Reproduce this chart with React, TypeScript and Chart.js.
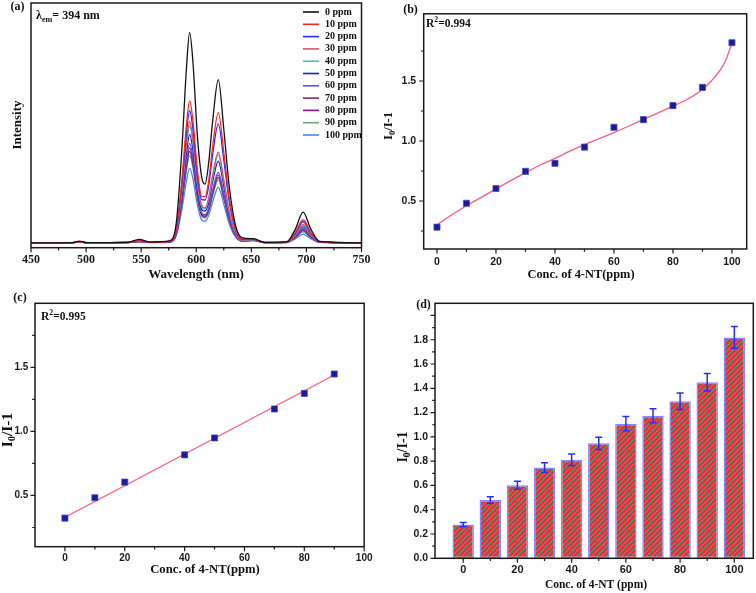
import React, { useEffect, useRef } from 'react';
import { Chart, registerables } from 'chart.js';
Chart.register(...registerables);

const SERIF = '"Liberation Serif", "Times New Roman", serif';
const SANS = '"Liberation Sans", Arial, sans-serif';

// ---------- Panel (a): emission spectra ----------
const wavelengths = [450, 488, 494, 500, 538, 548, 558, 576, 582, 587, 591, 594, 597, 601, 605, 608, 611, 615, 620, 625, 630, 636, 642, 652, 662, 682, 690, 697, 704, 712, 750];
const legendA = ['0 ppm', '10 ppm', '20 ppm', '30 ppm', '40 ppm', '50 ppm', '60 ppm', '70 ppm', '80 ppm', '90 ppm', '100 ppm'];
const colorsA = ['#111111', '#ff2424', '#2a2aff', '#e0506a', '#3cc8a8', '#1c1cc8', '#6a50d8', '#8c2c5a', '#8a108a', '#6aaa78', '#4c86e6'];
const spec0 = [2, 2.1, 2.7, 2.1, 2.2, 3.4, 2.3, 2.9, 10.6, 40.7, 72.5, 88, 75.8, 45.9, 28.7, 26.0, 33.6, 52.2, 68.7, 48.4, 24.8, 8.5, 4.0, 3.7, 2.2, 2.4, 7.6, 14.5, 7.6, 2.6, 2];
const spec10 = [2, 2.1, 2.5, 2.1, 2.2, 3.0, 2.2, 2.6, 7.8, 28.1, 49.6, 60, 51.8, 31.9, 21.0, 20.9, 26.4, 41.7, 55.2, 39.0, 20.2, 7.2, 3.6, 3.5, 2.2, 2.3, 6.3, 11.5, 6.3, 2.5, 2];
const spec20 = [2, 2.1, 2.5, 2.1, 2.2, 2.9, 2.2, 2.5, 7.4, 26.3, 46.3, 56, 48.4, 29.8, 19.6, 19.5, 24.4, 38.4, 50.6, 35.8, 18.6, 6.8, 3.4, 3.4, 2.2, 2.3, 5.9, 10.7, 5.9, 2.4, 2];
const spec30 = [2, 2.1, 2.4, 2.1, 2.2, 2.8, 2.2, 2.5, 7.0, 24.3, 42.6, 51.5, 44.5, 27.2, 17.2, 16.3, 19.7, 29.9, 39.0, 27.7, 14.6, 5.6, 3.1, 3.3, 2.1, 2.2, 5.4, 9.5, 5.4, 2.4, 2];
const spec40 = [2, 2.1, 2.4, 2.1, 2.2, 2.8, 2.2, 2.5, 6.8, 23.5, 41.1, 49.7, 42.9, 26.3, 16.7, 15.9, 19.1, 29.1, 38.0, 27.0, 14.3, 5.5, 3.1, 3.2, 2.1, 2.2, 5.2, 9.0, 5.2, 2.4, 2];
const spec50 = [2, 2.1, 2.4, 2.1, 2.2, 2.7, 2.2, 2.4, 6.4, 21.9, 38.3, 46.3, 40.0, 24.6, 15.6, 15.0, 17.9, 27.2, 35.4, 25.2, 13.4, 5.3, 3.0, 3.1, 2.1, 2.2, 4.9, 8.5, 4.9, 2.3, 2];
const spec60 = [2, 2.1, 2.3, 2.1, 2.1, 2.6, 2.2, 2.4, 6.1, 20.3, 35.3, 42.6, 36.8, 22.6, 14.3, 13.5, 15.8, 23.8, 30.8, 22.0, 11.8, 4.8, 2.8, 3.0, 2.1, 2.2, 4.6, 7.8, 4.6, 2.3, 2];
const spec70 = [2, 2.1, 2.3, 2.1, 2.1, 2.6, 2.2, 2.4, 5.9, 19.5, 33.8, 40.8, 35.3, 21.7, 13.7, 12.9, 15.4, 23.0, 29.8, 21.3, 11.5, 4.7, 2.8, 3.0, 2.1, 2.2, 4.5, 7.5, 4.5, 2.3, 2];
const spec80 = [2, 2.1, 2.3, 2.1, 2.1, 2.5, 2.2, 2.4, 5.7, 18.8, 32.7, 39.4, 34.1, 21.0, 13.3, 12.6, 14.9, 22.2, 28.7, 20.6, 11.1, 4.6, 2.8, 3.0, 2.1, 2.2, 4.3, 7.0, 4.3, 2.3, 2];
const spec90 = [2, 2.1, 2.3, 2.1, 2.1, 2.5, 2.2, 2.4, 5.6, 18.0, 31.2, 37.6, 32.6, 20.1, 12.8, 12.1, 14.3, 21.4, 27.7, 19.9, 10.8, 4.5, 2.8, 3.0, 2.1, 2.1, 4.0, 6.5, 4.0, 2.2, 2];
const spec100 = [2, 2.1, 2.2, 2.1, 2.1, 2.4, 2.1, 2.3, 5.1, 15.7, 27.0, 32.5, 28.1, 17.5, 11.3, 10.8, 12.8, 19.0, 24.6, 17.7, 9.7, 4.2, 2.7, 2.9, 2.1, 2.1, 3.6, 5.5, 3.6, 2.2, 2];
const spectraA = [spec0, spec10, spec20, spec30, spec40, spec50, spec60, spec70, spec80, spec90, spec100];
const xTicksA = [450, 500, 550, 600, 650, 700, 750];
const xMinorA = [475, 525, 575, 625, 675, 725];

// ---------- Panel (b): I0/I-1 vs conc with polynomial fit ----------
const concB = [0, 10, 20, 30, 40, 50, 60, 70, 80, 90, 100];
const ratioB = [0.282, 0.481, 0.604, 0.747, 0.814, 0.949, 1.114, 1.178, 1.295, 1.447, 1.819];
const fitXB = [0, 5, 10, 15, 20, 25, 30, 35, 40, 45, 50, 55, 60, 65, 70, 75, 80, 85, 90, 93, 96, 98, 100];
const fitYB = [0.30, 0.385, 0.46, 0.53, 0.60, 0.67, 0.735, 0.80, 0.855, 0.915, 0.97, 1.02, 1.07, 1.125, 1.18, 1.235, 1.29, 1.35, 1.43, 1.50, 1.59, 1.68, 1.82];
const xTicksBC = [0, 20, 40, 60, 80, 100];
const xMinorBC = [10, 30, 50, 70, 90];
const yTicksBC = [0.5, 1.0, 1.5];
const yMinorBC = [0.25, 0.75, 1.25, 1.75];

// ---------- Panel (c): linear range ----------
const concC = [0, 10, 20, 40, 50, 70, 80, 90];
const ratioC = [0.323, 0.482, 0.604, 0.817, 0.949, 1.175, 1.297, 1.448];
const fitXC = [0, 90];
const fitYC = [0.33, 1.44];

// ---------- Panel (d): bars with error bars ----------
const concD = [0, 10, 20, 30, 40, 50, 60, 70, 80, 90, 100];
const ratioD = [0.278, 0.48, 0.602, 0.747, 0.812, 0.947, 1.109, 1.174, 1.293, 1.449, 1.819];
const errD = [0.017, 0.027, 0.033, 0.04, 0.047, 0.05, 0.058, 0.058, 0.068, 0.072, 0.09];
const xTicksD = [0, 20, 40, 60, 80, 100];
const xMinorD = [10, 30, 50, 70, 90];
const yTicksD = [0, 0.2, 0.4, 0.6, 0.8, 1.0, 1.2, 1.4, 1.6, 1.8, 2.0];
const yMinorD = [0.1, 0.3, 0.5, 0.7, 0.9, 1.1, 1.3, 1.5, 1.7, 1.9];

type Part = { t: string; sub?: boolean; sup?: boolean };

function drawRich(ctx: any, parts: Part[], x: number, y: number, size: number, align: string, family: string, rotate = false) {
  ctx.save();
  ctx.translate(x, y);
  if (rotate) ctx.rotate(-Math.PI / 2);
  ctx.textBaseline = 'middle';
  ctx.textAlign = 'left';
  ctx.fillStyle = '#111';
  const fontOf = (p: Part) => `bold ${p.sub || p.sup ? size * 0.68 : size}px ${family}`;
  const widths = parts.map((p) => {
    ctx.font = fontOf(p);
    return ctx.measureText(p.t).width;
  });
  const total = widths.reduce((a, b) => a + b, 0);
  let cx = align === 'center' ? -total / 2 : 0;
  parts.forEach((p, i) => {
    ctx.font = fontOf(p);
    const dy = p.sub ? size * 0.3 : p.sup ? -size * 0.32 : 0;
    ctx.fillText(p.t, cx, dy);
    cx += widths[i];
  });
  ctx.restore();
}

function axisPlugin(spec: any) {
  return {
    id: 'axisFrame',
    afterDatasetsDraw(chart: any) {
      const { ctx, chartArea: a } = chart;
      const xs = chart.scales.x;
      const ys = chart.scales.y;
      ctx.save();
      ctx.strokeStyle = '#1a1a1a';
      ctx.lineWidth = 1.2;
      ctx.beginPath();
      (spec.xMajor || []).forEach((v: number) => {
        const p = xs.getPixelForValue(v);
        ctx.moveTo(p, a.bottom);
        ctx.lineTo(p, a.bottom + 4.5);
      });
      (spec.xMinor || []).forEach((v: number) => {
        const p = xs.getPixelForValue(v);
        ctx.moveTo(p, a.bottom);
        ctx.lineTo(p, a.bottom + 2.8);
      });
      (spec.yMajor || []).forEach((v: number) => {
        const p = ys.getPixelForValue(v);
        ctx.moveTo(a.left, p);
        ctx.lineTo(a.left - 4.5, p);
      });
      (spec.yMinor || []).forEach((v: number) => {
        const p = ys.getPixelForValue(v);
        ctx.moveTo(a.left, p);
        ctx.lineTo(a.left - 2.8, p);
      });
      ctx.stroke();
      ctx.lineWidth = 1.5;
      ctx.strokeRect(a.left, a.top, a.right - a.left, a.bottom - a.top);
      ctx.restore();
    },
  };
}

function textPlugin(ox: number, oy: number, draw: (ctx: any, chart: any) => void) {
  return {
    id: 'texts',
    afterDraw(chart: any) {
      const ctx = chart.ctx;
      ctx.save();
      ctx.translate(-ox, -oy);
      draw(ctx, chart);
      ctx.restore();
    },
  };
}

function fixedTicks(values: number[]) {
  return (s: any) => {
    s.ticks = values.map((v) => ({ value: v }));
  };
}

const I0 = (): Part[] => [{ t: 'I' }, { t: '0', sub: true }, { t: '/I-1' }];

function Panel({ left, top, width, height, build }: any) {
  const ref = useRef<HTMLCanvasElement>(null);
  useEffect(() => {
    const chart = new Chart(ref.current as any, build());
    return () => chart.destroy();
  }, []);
  return <canvas ref={ref} width={width} height={height} style={{ position: 'absolute', left, top, width, height }} />;
}

function xScale(min: number, max: number, ticks: number[], height: number, pad: number, font: any, fmt: (v: number) => string) {
  return {
    type: 'linear',
    min,
    max,
    offset: false,
    grid: { display: false, drawTicks: false, offset: false },
    border: { display: false },
    afterBuildTicks: fixedTicks(ticks),
    afterFit: (s: any) => {
      s.height = height;
    },
    ticks: { padding: pad, font, color: '#1a1a1a', autoSkip: false, maxRotation: 0, minRotation: 0, callback: (v: any) => fmt(Number(v)) },
  };
}

function yScale(min: number, max: number, ticks: number[], width: number, pad: number, font: any, fmt: (v: number) => string, show = true) {
  return {
    type: 'linear',
    min,
    max,
    grid: { display: false, drawTicks: false },
    border: { display: false },
    afterBuildTicks: fixedTicks(ticks),
    afterFit: (s: any) => {
      s.width = width;
    },
    ticks: { display: show, padding: pad, font, color: '#1a1a1a', autoSkip: false, callback: (v: any) => fmt(Number(v)) },
  };
}

const baseOptions = {
  responsive: false,
  animation: false,
  events: [],
  plugins: { legend: { display: false }, tooltip: { enabled: false } },
};

function buildA() {
  const ox = 0, oy = 0;
  return {
    type: 'line',
    data: {
      datasets: spectraA.map((vals, i) => ({
        label: legendA[i],
        data: wavelengths.map((x, j) => ({ x, y: vals[j] })),
        borderColor: colorsA[i],
        backgroundColor: colorsA[i],
        borderWidth: 1.3,
        pointRadius: 0,
        cubicInterpolationMode: 'monotone',
        fill: false,
      })),
    },
    options: {
      ...baseOptions,
      layout: { padding: { left: 0, top: 3, right: 16.5, bottom: 12.3 } },
      scales: {
        x: xScale(450, 750, xTicksA, 30, 5.5, { family: SERIF, size: 12, weight: 'bold' }, (v) => String(v)),
        y: yScale(0, 100, [], 31, 0, { size: 10 }, () => '', false),
      },
    },
    plugins: [
      axisPlugin({ xMajor: xTicksA, xMinor: xMinorA }),
      textPlugin(ox, oy, (ctx) => {
        drawRich(ctx, [{ t: '(a)' }], 17.5, 7, 12, 'center', SERIF);
        drawRich(ctx, [{ t: 'λ' }, { t: 'em', sub: true }, { t: '= 394 nm' }], 36, 16, 12, 'left', SERIF);
        drawRich(ctx, [{ t: 'Intensity' }], 18, 125, 13, 'center', SERIF, true);
        drawRich(ctx, [{ t: 'Wavelength (nm)' }], 196, 275, 13, 'center', SERIF);
        legendA.forEach((lab, i) => {
          const y = 12 + i * 12.3;
          ctx.save();
          ctx.strokeStyle = colorsA[i];
          ctx.lineWidth = 1.6;
          ctx.beginPath();
          ctx.moveTo(303, y);
          ctx.lineTo(319, y);
          ctx.stroke();
          ctx.restore();
          drawRich(ctx, [{ t: lab }], 325, y, 10, 'left', SERIF);
        });
      }),
    ],
  };
}

const markerStyle = {
  pointStyle: 'rect',
  pointRadius: 4.3,
  backgroundColor: '#1b1b96',
  borderColor: '#4a4acc',
  borderWidth: 0.8,
  showLine: false,
};

function buildB() {
  const ox = 378, oy = 0;
  return {
    type: 'scatter',
    data: {
      datasets: [
        { label: 'data', data: concB.map((x, i) => ({ x, y: ratioB[i] })), ...markerStyle },
        {
          label: 'fit',
          data: fitXB.map((x, i) => ({ x, y: fitYB[i] })),
          showLine: true,
          borderColor: '#ff5c7c',
          backgroundColor: '#ff5c7c',
          borderWidth: 1.3,
          pointRadius: 0,
          cubicInterpolationMode: 'monotone',
        },
      ],
    },
    options: {
      ...baseOptions,
      layout: { padding: { left: 0, top: 3, right: 9.3, bottom: 11 } },
      scales: {
        x: xScale(-4.5, 105, xTicksBC, 30, 7, { family: SANS, size: 10.5, weight: 'bold' }, (v) => String(v)),
        y: yScale(0.1, 2.06, yTicksBC, 45.7, 7.5, { family: SANS, size: 10.5, weight: 'bold' }, (v) => v.toFixed(1)),
      },
    },
    plugins: [
      axisPlugin({ xMajor: xTicksBC, xMinor: xMinorBC, yMajor: yTicksBC, yMinor: yMinorBC }),
      textPlugin(ox, oy, (ctx) => {
        drawRich(ctx, [{ t: '(b)' }], 410.5, 10, 12, 'center', SERIF);
        drawRich(ctx, [{ t: 'R' }, { t: '2', sup: true }, { t: '=0.994' }], 426, 24, 11.5, 'left', SERIF);
        drawRich(ctx, I0(), 389, 126, 12.5, 'center', SERIF, true);
        drawRich(ctx, [{ t: 'Conc. of 4-NT(ppm)' }], 581, 275, 12.4, 'center', SERIF);
      }),
    ],
  };
}

function buildC() {
  const ox = 0, oy = 290;
  return {
    type: 'scatter',
    data: {
      datasets: [
        { label: 'data', data: concC.map((x, i) => ({ x, y: ratioC[i] })), ...markerStyle },
        {
          label: 'fit',
          data: fitXC.map((x, i) => ({ x, y: fitYC[i] })),
          showLine: true,
          borderColor: '#ff5c7c',
          backgroundColor: '#ff5c7c',
          borderWidth: 1.3,
          pointRadius: 0,
        },
      ],
    },
    options: {
      ...baseOptions,
      layout: { padding: { left: 0, top: 13.3, right: 11.3, bottom: 16.3 } },
      scales: {
        x: xScale(-10, 100, xTicksBC, 30, 5.5, { family: SANS, size: 10, weight: 'bold' }, (v) => String(v)),
        y: yScale(0.1, 2.0, yTicksBC, 35, 6.7, { family: SANS, size: 10, weight: 'bold' }, (v) => v.toFixed(1)),
      },
    },
    plugins: [
      axisPlugin({ xMajor: xTicksBC, xMinor: xMinorBC, yMajor: yTicksBC, yMinor: yMinorBC }),
      textPlugin(ox, oy, (ctx) => {
        drawRich(ctx, [{ t: '(c)' }], 20, 298, 12, 'center', SERIF);
        drawRich(ctx, [{ t: 'R' }, { t: '2', sup: true }, { t: '=0.995' }], 41, 316.7, 11.5, 'left', SERIF);
        drawRich(ctx, I0(), 8, 430, 15.5, 'center', SERIF, true);
        drawRich(ctx, [{ t: 'Conc. of 4-NT(ppm)' }], 205, 570, 12.7, 'center', SERIF);
      }),
    ],
  };
}

function makeHatch() {
  const n = 5;
  const c = document.createElement('canvas');
  c.width = n;
  c.height = n;
  const g = c.getContext('2d') as CanvasRenderingContext2D;
  g.fillStyle = '#f82828';
  g.fillRect(0, 0, n, n);
  g.strokeStyle = '#3fa59a';
  g.lineWidth = 1.2;
  g.beginPath();
  g.moveTo(0, n);
  g.lineTo(n, 0);
  g.moveTo(-1, 1);
  g.lineTo(1, -1);
  g.moveTo(n - 1, n + 1);
  g.lineTo(n + 1, n - 1);
  g.stroke();
  return g.createPattern(c, 'repeat');
}

function buildD() {
  const ox = 378, oy = 290;
  const errorBars = {
    id: 'errorBars',
    afterDatasetsDraw(chart: any) {
      const { ctx } = chart;
      const xs = chart.scales.x;
      const ys = chart.scales.y;
      ctx.save();
      ctx.strokeStyle = '#2c2cf0';
      ctx.lineWidth = 1.5;
      ctx.beginPath();
      concD.forEach((c, i) => {
        const px = xs.getPixelForValue(c);
        const yt = ys.getPixelForValue(ratioD[i] + errD[i]);
        const yb = ys.getPixelForValue(ratioD[i] - errD[i]);
        ctx.moveTo(px, yt);
        ctx.lineTo(px, yb);
        ctx.moveTo(px - 3.5, yt);
        ctx.lineTo(px + 3.5, yt);
        ctx.moveTo(px - 3.5, yb);
        ctx.lineTo(px + 3.5, yb);
      });
      ctx.stroke();
      ctx.restore();
    },
  };
  return {
    type: 'bar',
    data: {
      datasets: [
        {
          label: 'I0/I-1',
          data: concD.map((x, i) => ({ x, y: ratioD[i] })),
          backgroundColor: makeHatch(),
          borderColor: '#8a86ff',
          borderWidth: 1.5,
          borderSkipped: false,
          barPercentage: 0.79,
          categoryPercentage: 1,
        },
      ],
    },
    options: {
      ...baseOptions,
      layout: { padding: { left: 0, top: 9, right: 2.7, bottom: 4.7 } },
      scales: {
        x: xScale(-10.4, 107, xTicksD, 30, 4.7, { family: SANS, size: 11, weight: 'bold' }, (v) => String(v)),
        y: yScale(0, 2.1, yTicksD, 57, 7, { family: SANS, size: 10.5, weight: 'bold' }, (v) => (v > 1.95 ? '' : v.toFixed(1))),
      },
    },
    plugins: [
      errorBars,
      axisPlugin({ xMajor: xTicksD, xMinor: xMinorD, yMajor: yTicksD, yMinor: yMinorD }),
      textPlugin(ox, oy, (ctx) => {
        drawRich(ctx, [{ t: '(d)' }], 423.5, 305, 12, 'center', SERIF);
        drawRich(ctx, I0(), 403.5, 447, 14, 'center', SERIF, true);
        drawRich(ctx, [{ t: 'Conc. of 4-NT (ppm)' }], 596, 585, 11.5, 'center', SERIF);
      }),
    ],
  };
}

export default function App() {
  return (
    <div style={{ position: 'absolute', left: 0, top: 0, width: 756, height: 593, background: '#fff', overflow: 'hidden' }}>
      <Panel left={0} top={0} width={378} height={290} build={buildA} />
      <Panel left={378} top={0} width={378} height={290} build={buildB} />
      <Panel left={0} top={290} width={378} height={303} build={buildC} />
      <Panel left={378} top={290} width={378} height={303} build={buildD} />
    </div>
  );
}
